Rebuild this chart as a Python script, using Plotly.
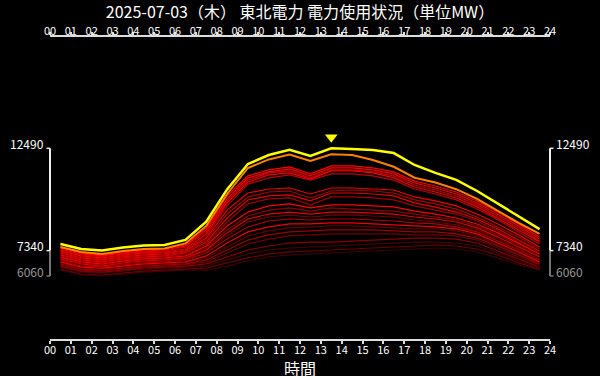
import plotly.graph_objects as go

# ---------------- data ----------------
hours = [h + 0.5 for h in range(24)]
tick_hours = list(range(25))
tick_labels = [f"{h:02d}" for h in tick_hours]

title_text = "2025-07-03（木） 東北電力 電力使用状況（単位MW）"
x_title = "時間"

today = [7670, 7420, 7340, 7500, 7600, 7620, 7880, 8800, 10420, 11700, 12150, 12410,
         12100, 12490, 12450, 12400, 12250, 11650, 11250, 10900, 10340, 9710, 9060, 8420]
second = [7520, 7270, 7170, 7320, 7420, 7440, 7700, 8580, 10190, 11500, 11930, 12180,
          11850, 12190, 12150, 11900, 11560, 11010, 10770, 10430, 9940, 9330, 8730, 8180]

past_a1 = [7470, 7220, 7120, 7270, 7370, 7420, 7620, 8480, 10090, 11100, 11400, 11550, 11200, 11600, 11600, 11500, 11300, 10840, 10590, 10290, 9840, 9280, 8680, 8020]
past_a2 = [7420, 7170, 7070, 7220, 7320, 7370, 7570, 8380, 9940, 11000, 11300, 11450, 11100, 11500, 11500, 11400, 11200, 10740, 10490, 10190, 9740, 9180, 8580, 7920]
past_a3 = [7370, 7120, 7020, 7170, 7270, 7320, 7520, 8280, 9840, 10890, 11250, 11350, 11000, 11400, 11400, 11300, 11100, 10640, 10390, 10090, 9640, 9080, 8480, 7820]
past_a4 = [7320, 7070, 6970, 7120, 7220, 7270, 7420, 8180, 9740, 10790, 11150, 11250, 10940, 11350, 11350, 11250, 11000, 10540, 10290, 9990, 9540, 8980, 8380, 7770]
past_a5 = [7270, 7020, 6920, 7070, 7170, 7220, 7370, 8080, 9590, 10690, 11000, 11150, 10890, 11200, 11200, 11100, 10890, 10440, 10190, 9890, 9430, 8880, 8280, 7670]
past_b1 = [7220, 6970, 6870, 7020, 7120, 7170, 7320, 7970, 9380, 10240, 10440, 10490, 10190, 10490, 10490, 10440, 10390, 10040, 9840, 9590, 9180, 8680, 8130, 7520]
past_b2 = [7170, 6920, 6820, 6970, 7070, 7120, 7270, 7870, 9180, 10040, 10290, 10340, 9990, 10340, 10390, 10340, 10240, 9890, 9690, 9430, 9030, 8530, 8020, 7420]
past_b3 = [7120, 6870, 6770, 6920, 7020, 7070, 7220, 7770, 8980, 9890, 10090, 10140, 9840, 10240, 10240, 10190, 10090, 9740, 9530, 9280, 8930, 8430, 7870, 7320]
past_b4 = [7070, 6820, 6720, 6870, 6970, 7020, 7120, 7670, 8780, 9690, 9940, 9990, 9640, 10040, 10040, 9990, 9890, 9590, 9380, 9180, 8830, 8330, 7770, 7220]
past_c1 = [7020, 6770, 6670, 6820, 6920, 6970, 7070, 7570, 8580, 9280, 9590, 9690, 9490, 9640, 9640, 9590, 9540, 9330, 9180, 8980, 8680, 8230, 7720, 7170]
past_c2 = [6970, 6720, 6620, 6770, 6870, 6920, 7020, 7470, 8380, 9080, 9380, 9490, 9330, 9490, 9430, 9380, 9330, 9180, 9030, 8880, 8580, 8130, 7620, 7070]
past_c3 = [6920, 6670, 6560, 6720, 6820, 6870, 6970, 7370, 8230, 8930, 9180, 9280, 9180, 9280, 9280, 9230, 9180, 9030, 8930, 8780, 8480, 8020, 7520, 7020]
past_c4 = [6870, 6620, 6560, 6670, 6770, 6820, 6920, 7320, 8080, 8780, 9030, 9130, 9030, 9130, 9130, 9080, 9030, 8880, 8780, 8630, 8380, 7920, 7420, 6920]
past_c5 = [6820, 6560, 6510, 6620, 6720, 6770, 6870, 7220, 7920, 8530, 8830, 8930, 8880, 8930, 8930, 8880, 8830, 8730, 8680, 8530, 8280, 7820, 7370, 6870]
past_d1 = [6770, 6510, 6460, 6560, 6670, 6720, 6770, 7070, 7720, 8280, 8530, 8680, 8680, 8730, 8730, 8680, 8630, 8580, 8530, 8430, 8180, 7720, 7270, 6770]
past_d2 = [6720, 6460, 6410, 6510, 6620, 6670, 6720, 6970, 7520, 8080, 8330, 8480, 8530, 8580, 8580, 8530, 8480, 8430, 8430, 8330, 8080, 7670, 7220, 6720]
past_d3 = [6670, 6410, 6360, 6460, 6560, 6620, 6670, 6870, 7370, 7870, 8130, 8280, 8330, 8380, 8380, 8380, 8330, 8280, 8280, 8180, 7970, 7570, 7120, 6670]
past_d4 = [6620, 6360, 6310, 6410, 6510, 6560, 6620, 6770, 7220, 7670, 7920, 8080, 8130, 8180, 8180, 8180, 8180, 8130, 8130, 8080, 7870, 7470, 7020, 6620]
past_e1 = [6560, 6310, 6260, 6360, 6460, 6510, 6560, 6670, 7020, 7370, 7570, 7720, 7770, 7770, 7820, 7870, 7920, 7970, 7970, 7920, 7720, 7320, 6920, 6510]
past_e2 = [6510, 6260, 6210, 6310, 6410, 6460, 6510, 6560, 6870, 7170, 7370, 7470, 7520, 7570, 7620, 7670, 7720, 7770, 7770, 7720, 7570, 7220, 6820, 6460]
past_e3 = [6410, 6160, 6110, 6210, 6310, 6360, 6410, 6460, 6720, 6970, 7170, 7270, 7320, 7370, 7420, 7470, 7520, 7570, 7620, 7570, 7420, 7120, 6720, 6410]
past_e4 = [6360, 6110, 6060, 6160, 6260, 6310, 6360, 6360, 6560, 6820, 7020, 7120, 7170, 7220, 7270, 7320, 7370, 7420, 7470, 7420, 7270, 6970, 6620, 6360]

# drawn from back (dark) to front (bright)
past_days = [past_e4, past_e3, past_e2, past_e1, past_d4, past_d3, past_d2, past_d1,
             past_c5, past_c4, past_c3, past_c2, past_c1, past_b4, past_b3, past_b2,
             past_b1, past_a5, past_a4, past_a3, past_a2, past_a1]
past_colors = ["#3a0000", "#6a0000", "#4a0000", "#8a0000", "#700000", "#a00000", "#600000", "#f00000",
               "#b00000", "#700000", "#e00000", "#900000", "#ff0000", "#a00000", "#e80000", "#b00000",
               "#f00000", "#c00000", "#f40000", "#d00000", "#ff0000", "#ff0000"]

# ---------------- figure ----------------
Y_RANGE = [2888, 18094]
PLOT_H = 302
mw_per_px = (Y_RANGE[1] - Y_RANGE[0]) / PLOT_H

fig = go.Figure()
for vals, col in zip(past_days, past_colors):
    fig.add_trace(go.Scatter(x=hours, y=vals, mode="lines",
                             line=dict(color=col, width=1.2), hoverinfo="skip", showlegend=False))
fig.add_trace(go.Scatter(x=hours, y=second, mode="lines",
                         line=dict(color="#ff8000", width=2), showlegend=False))
fig.add_trace(go.Scatter(x=hours, y=today, mode="lines",
                         line=dict(color="#ffff00", width=2.5), showlegend=False))

peak = max(today)
peak_x = hours[today.index(peak)]
fig.add_trace(go.Scatter(x=[peak_x], y=[peak + 11 * mw_per_px], mode="markers",
                         marker=dict(symbol="triangle-down", size=11, color="#ffff00"),
                         showlegend=False, cliponaxis=False))
# dummy trace on top axis
fig.add_trace(go.Scatter(x=[0, 24], y=[None, None], xaxis="x2", showlegend=False, hoverinfo="skip"))

tmin = min(today)
gmin = min(min(v) for v in past_days + [today, second])

FONT = "Noto Sans CJK JP"
axis_common = dict(range=[0, 24], tickvals=tick_hours, ticktext=tick_labels,
                   showline=True, linecolor="#dddddd", linewidth=2,
                   ticks="outside", ticklen=3, tickwidth=1.5, tickcolor="#dddddd",
                   tickfont=dict(family=FONT, size=11, color="#ffffff"),
                   showgrid=False, zeroline=False)

fig.update_layout(
    width=600, height=376,
    margin=dict(l=50, r=50, t=37, b=37),
    paper_bgcolor="#000000", plot_bgcolor="#000000",
    showlegend=False,
    title=dict(text=title_text, x=0.5, xref="paper", y=1 - 12 / 376, yref="container",
               xanchor="center", yanchor="middle",
               font=dict(family=FONT, size=16, color="#ffffff")),
    xaxis=dict(**axis_common, side="bottom", ticklabelstandoff=-3),
    xaxis2=dict(**axis_common, side="top", overlaying="x", anchor="y", ticklabelstandoff=-7),
    yaxis=dict(range=Y_RANGE, visible=False, showgrid=False, zeroline=False),
)

shapes = []
for px, stub in [(0, -0.007), (1, 0.007)]:
    shapes.append(dict(type="line", xref="paper", yref="y", x0=px, x1=px, y0=gmin, y1=tmin,
                       line=dict(color="#777777", width=2)))
    shapes.append(dict(type="line", xref="paper", yref="y", x0=px, x1=px, y0=tmin, y1=peak,
                       line=dict(color="#eeeeee", width=2)))
    for v, c in [(peak, "#eeeeee"), (tmin, "#eeeeee"), (gmin, "#777777")]:
        shapes.append(dict(type="line", xref="paper", yref="y", x0=px, x1=px + stub, y0=v, y1=v,
                           line=dict(color=c, width=1.5)))
fig.update_layout(shapes=shapes)

annots = []
for v, c in [(peak, "#ffffff"), (tmin, "#ffffff"), (gmin, "#999999")]:
    annots.append(dict(x=0, xref="paper", y=v, yref="y", text=str(v), showarrow=False,
                       xanchor="right", yanchor="middle", xshift=-4, yshift=5,
                       font=dict(family=FONT, size=12, color=c)))
    annots.append(dict(x=1, xref="paper", y=v, yref="y", text=str(v), showarrow=False,
                       xanchor="left", yanchor="middle", xshift=4, yshift=5,
                       font=dict(family=FONT, size=12, color=c)))
annots.append(dict(x=0.5, xref="paper", y=0, yref="paper", text=x_title, showarrow=False,
                   xanchor="center", yanchor="middle", yshift=-29,
                   font=dict(family=FONT, size=16, color="#ffffff")))
fig.update_layout(annotations=annots)

fig.write_html("out.html", config={"displayModeBar": False},
               post_script="document.body.style.margin='0';document.body.style.padding='0';")
